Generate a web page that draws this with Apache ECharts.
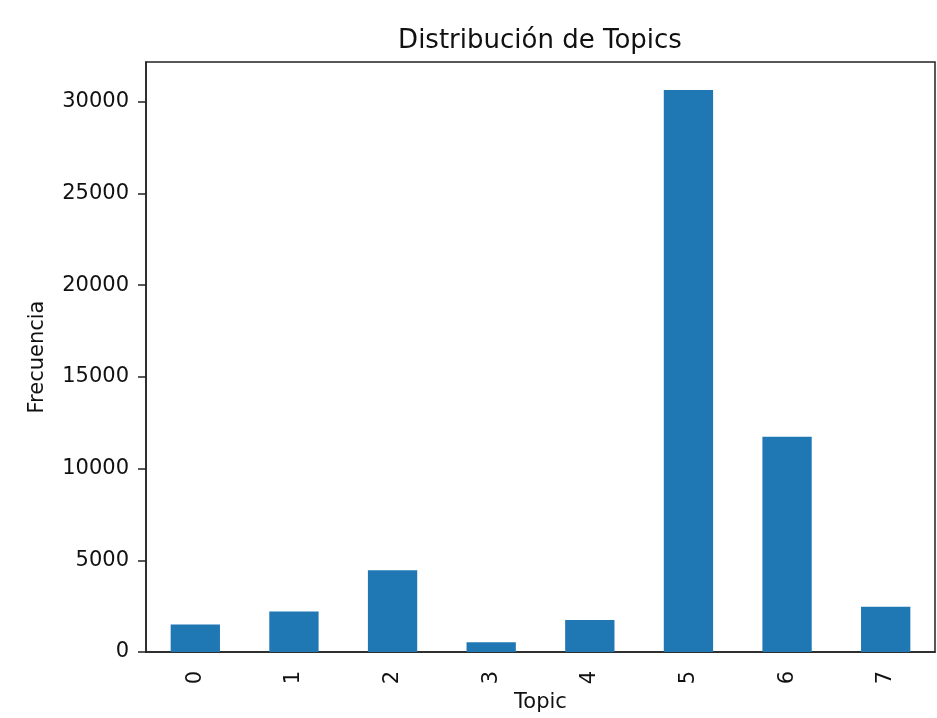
<!DOCTYPE html>
<html>
<head>
<meta charset="utf-8">
<script src="https://cdn.jsdelivr.net/npm/echarts@6/dist/echarts.min.js"></script>
<style>html,body{margin:0;padding:0;background:#fff}#c{width:937px;height:718px}</style>
</head>
<body>
<div id="c"></div>
<script>
const categories = ['0','1','2','3','4','5','6','7'];
const frecuencia = [1500, 2210, 4460, 530, 1750, 30630, 11740, 2460];
const yTicks = [0, 5000, 10000, 15000, 20000, 25000, 30000];
const titleText = 'Distribución de Topics';

const chart = echarts.init(document.getElementById('c'));
const font = 'DejaVu Sans';
const yMax = Math.max(...frecuencia) * 1.05;
chart.setOption({
  animation: false,
  backgroundColor: '#fff',
  graphic: [{
    type: 'text', x: 540, y: 28,
    style: {text: titleText, fontFamily: font, fontSize: 26, fill: '#111', align: 'center', verticalAlign: 'top'}
  }],
  grid: {left: 146, right: 2, top: 62, bottom: 66, show: true, borderColor: '#222', borderWidth: 1.5,
         outerBoundsMode: 'none', containLabel: false},
  xAxis: {
    type: 'category', data: categories,
    name: 'Topic', nameLocation: 'middle', nameGap: 40,
    nameTextStyle: {fontFamily: font, fontSize: 21, color: '#111', verticalAlign: 'top'},
    axisLine: {lineStyle: {color: '#222', width: 1.5}},
    axisTick: {alignWithLabel: true, length: 8, lineStyle: {color: '#222', width: 1.5}},
    axisLabel: {rotate: 90, margin: 19, fontFamily: font, fontSize: 21, color: '#111'}
  },
  yAxis: {
    type: 'value', min: 0, max: yMax, interval: 5000,
    name: 'Frecuencia', nameLocation: 'middle', nameGap: 98,
    nameTextStyle: {fontFamily: font, fontSize: 21, color: '#111'},
    splitLine: {show: false},
    axisLine: {show: true, lineStyle: {color: '#222', width: 1.5}},
    axisTick: {show: true, length: 8, lineStyle: {color: '#222', width: 1.5}},
    axisLabel: {
      margin: 17, fontFamily: font, fontSize: 21, color: '#111', showMaxLabel: false,
      formatter: v => yTicks.includes(v) ? String(v) : ''
    }
  },
  series: [{
    type: 'bar', data: frecuencia, barWidth: '50%',
    itemStyle: {color: '#1f77b4'}
  }]
});
</script>
</body>
</html>
